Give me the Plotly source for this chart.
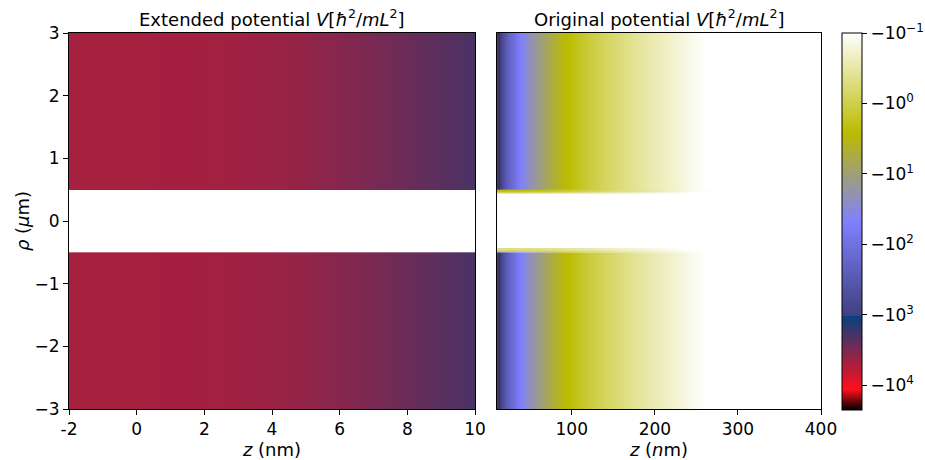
import numpy as np
import plotly.graph_objects as go

# ---------------- data ----------------
# Extended potential, z in nm, V in hbar^2/mL^2 (negative)
z_ext = [-2, -1, 0, 1, 2, 3, 4, 5, 6, 7, 8, 9, 10]
V_ext = [-4800, -4800, -4800, -4780, -4720, -4560, -4300, -3950, -3550, -3100, -2700, -2300, -1950]

# Original potential, z in nm
z_orig = [10, 12, 15, 20, 25, 30, 36, 40, 50, 60, 70, 80, 90, 100, 120, 140, 160, 180,
          200, 225, 250, 260, 300, 400]
V_orig = [-2600, -1300, -800, -350, -180, -105, -55, -42, -21, -12, -7.2, -4.6, -3.1, -2.2,
          -1.25, -0.78, -0.52, -0.36, -0.26, -0.175, -0.118, -0.1, -0.07, -0.03]

# thin bright strip at the inner edge of the original potential (near rho = +-0.5)
z_strip = [10, 30, 60, 100, 150, 200, 250, 300, 400]
V_strip_outer = [-2.4, -2.4, -2.0, -1.3, -0.6, -0.3, -0.12, -0.08, -0.05]
V_strip_inner = [-0.5, -0.5, -0.45, -0.35, -0.22, -0.14, -0.09, -0.06, -0.04]

# hole (white band) in rho, micrometres
rho_hole = 0.5
rho_max = 3.0

cbar_vals = [-4, -3, -2, -1, 0, 1]
cbar_text = ["−10<sup>4</sup>", "−10<sup>3</sup>", "−10<sup>2</sup>",
             "−10<sup>1</sup>", "−10<sup>0</sup>", "−10<sup>−1</sup>"]

x1_ticks = [-2, 0, 2, 4, 6, 8, 10]
x2_ticks = [100, 200, 300, 400]
y_ticks = [-3, -2, -1, 0, 1, 2, 3]

# ---------------- colormap (matplotlib gist_stern) ----------------
gist_stern = [
    [0.0, "rgb(0,0,0)"],
    [0.0547, "rgb(255,14,28)"],
    [0.25, "rgb(7,64,128)"],
    [0.2501, "rgb(64,64,128)"],
    [0.5, "rgb(128,128,255)"],
    [0.735, "rgb(187,187,0)"],
    [1.0, "rgb(255,255,255)"],
]


def tr(v):
    return [-np.log10(-x) for x in v]


W, H = 925, 460
FONT = "DejaVu Sans"
TICK = 17

fig = go.Figure()

# left panel: upper and lower slabs (y given as brick edges)
for yed in ([rho_hole, 1.75, rho_max], [-rho_max, -1.75, -rho_hole]):
    row = tr(V_ext)
    fig.add_trace(go.Heatmap(x=z_ext, y=yed, z=[row, row], coloraxis="coloraxis",
                             zsmooth="best", xaxis="x", yaxis="y", hoverinfo="skip"))

# right panel
for yed in ([rho_hole, 1.75, rho_max], [-rho_max, -1.75, -rho_hole]):
    row = tr(V_orig)
    fig.add_trace(go.Heatmap(x=z_orig, y=yed, z=[row, row], coloraxis="coloraxis",
                             zsmooth="best", xaxis="x2", yaxis="y2", hoverinfo="skip"))

# inner strips
fig.add_trace(go.Heatmap(x=z_strip, y=[0.43, 0.47, rho_hole],
                         z=[tr(V_strip_inner), tr(V_strip_outer)], coloraxis="coloraxis",
                         zsmooth="best", xaxis="x2", yaxis="y2", hoverinfo="skip"))
fig.add_trace(go.Heatmap(x=z_strip, y=[-rho_hole, -0.47, -0.43],
                         z=[tr(V_strip_outer), tr(V_strip_inner)], coloraxis="coloraxis",
                         zsmooth="best", xaxis="x2", yaxis="y2", hoverinfo="skip"))

ydom = [(H - 409) / H, (H - 33) / H]
axcommon = dict(showgrid=False, zeroline=False, showline=True, mirror=True,
                linecolor="black", linewidth=1, ticks="outside", ticklen=5,
                tickcolor="black", automargin=False,
                tickfont=dict(family=FONT, size=TICK, color="black"))

fig.update_layout(
    width=W, height=H,
    margin=dict(l=0, r=0, t=0, b=0, autoexpand=False),
    paper_bgcolor="white", plot_bgcolor="white",
    font=dict(family=FONT, color="black"),
    showlegend=False,
    coloraxis=dict(
        colorscale=gist_stern, cmin=-4.35, cmax=1,
        colorbar=dict(
            x=842 / W, xanchor="left", y=(H - 410) / H, yanchor="bottom",
            len=377 / H, lenmode="fraction", thickness=20, thicknessmode="pixels",
            outlinewidth=1, outlinecolor="black", xpad=0, ypad=0,
            tickvals=cbar_vals, ticktext=cbar_text, ticks="outside", ticklen=5,
            tickcolor="black", tickfont=dict(family=FONT, size=TICK, color="black"),
        ),
    ),
    xaxis=dict(domain=[69 / W, 475 / W], range=[-2, 10], anchor="y",
               tickvals=x1_ticks, ticktext=[str(v) for v in x1_ticks],
               title=dict(text="<i>z</i> (nm)", font=dict(family=FONT, size=18), standoff=4),
               **axcommon),
    yaxis=dict(domain=ydom, range=[-3, 3], anchor="x",
               tickvals=y_ticks, ticktext=[str(v).replace("-", "−") for v in y_ticks],
               title=dict(text="<i>ρ</i> (<i>μ</i>m)", font=dict(family=FONT, size=18), standoff=0),
               **axcommon),
    xaxis2=dict(domain=[497 / W, 821 / W], range=[10, 400], anchor="y2",
                tickvals=x2_ticks, ticktext=[str(v) for v in x2_ticks],
                title=dict(text="<i>z</i> (<i>n</i>m)", font=dict(family=FONT, size=18), standoff=4),
                **axcommon),
    yaxis2=dict(domain=ydom, range=[-3, 3], anchor="x2", showgrid=False, zeroline=False,
                showline=True, mirror=True, linecolor="black", linewidth=1,
                showticklabels=False, ticks="", automargin=False),
    annotations=[
        dict(text="Extended potential <i>V</i>[<i>ħ</i><sup>2</sup>/<i>mL</i><sup>2</sup>]",
             x=(69 + 475) / 2 / W, y=(H - 18) / H, xref="paper", yref="paper",
             xanchor="center", yanchor="middle", showarrow=False,
             font=dict(family=FONT, size=18, color="black")),
        dict(text="Original potential <i>V</i>[<i>ħ</i><sup>2</sup>/<i>mL</i><sup>2</sup>]",
             x=(497 + 821) / 2 / W, y=(H - 18) / H, xref="paper", yref="paper",
             xanchor="center", yanchor="middle", showarrow=False,
             font=dict(family=FONT, size=18, color="black")),
    ],
)

fig.write_html("out.html")
